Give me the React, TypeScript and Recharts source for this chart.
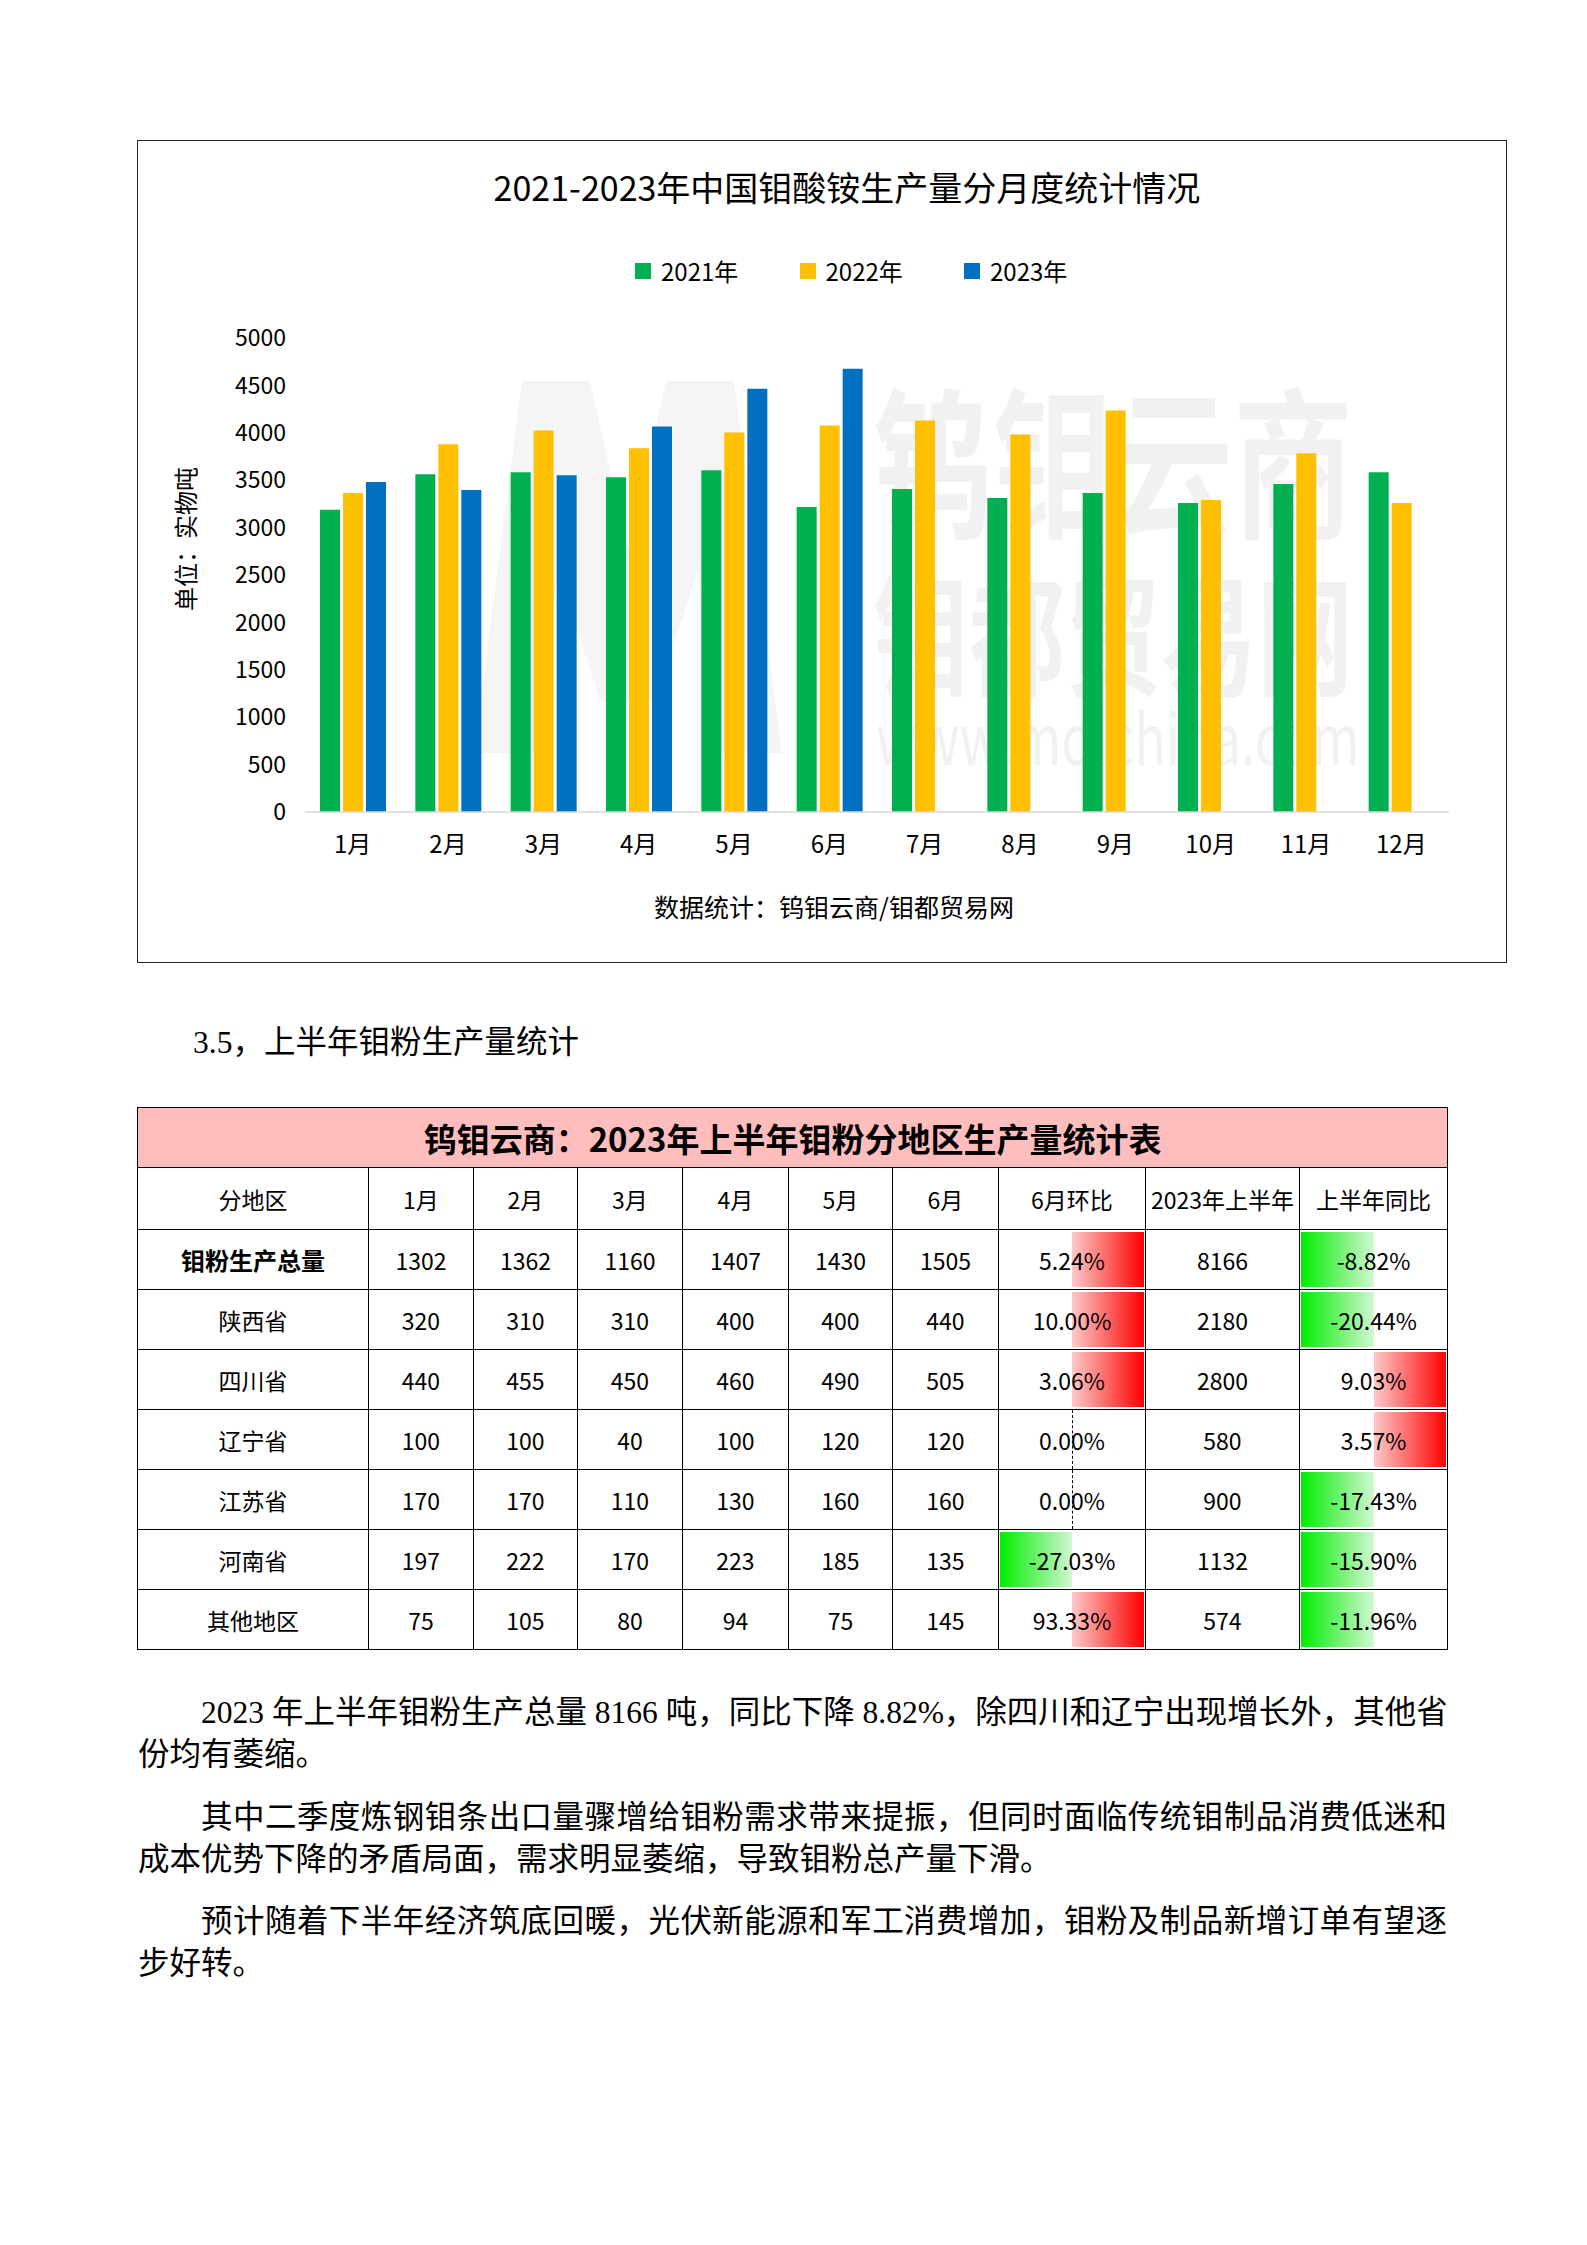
import React from 'react';
import { BarChart, Bar, XAxis, YAxis } from 'recharts';

// ---- chart data ----
const months = ['1月', '2月', '3月', '4月', '5月', '6月', '7月', '8月', '9月', '10月', '11月', '12月'];
const output2021 = [3187, 3564, 3585, 3532, 3606, 3218, 3407, 3312, 3365, 3260, 3459, 3585];
const output2022 = [3365, 3878, 4025, 3836, 4004, 4078, 4130, 3983, 4235, 3291, 3784, 3260];
const output2023 = [3480, 3396, 3553, 4067, 4465, 4675, null, null, null, null, null, null];
const yTicks = [0, 500, 1000, 1500, 2000, 2500, 3000, 3500, 4000, 4500, 5000];
const seriesKeys = ['y2021', 'y2022', 'y2023'];
const seriesNames = ['2021年', '2022年', '2023年'];
const seriesColors = ['#00b050', '#ffc000', '#0070c0'];

// ---- table data ----
const tableHeaders = ['分地区', '1月', '2月', '3月', '4月', '5月', '6月', '6月环比', '2023年上半年', '上半年同比'];
const regions = ['钼粉生产总量', '陕西省', '四川省', '辽宁省', '江苏省', '河南省', '其他地区'];
const jan = [1302, 320, 440, 100, 170, 197, 75];
const feb = [1362, 310, 455, 100, 170, 222, 105];
const mar = [1160, 310, 450, 40, 110, 170, 80];
const apr = [1407, 400, 460, 100, 130, 223, 94];
const may = [1430, 400, 490, 120, 160, 185, 75];
const jun = [1505, 440, 505, 120, 160, 135, 145];
const momChange = [5.24, 10.0, 3.06, 0.0, 0.0, -27.03, 93.33];
const halfYear = [8166, 2180, 2800, 580, 900, 1132, 574];
const yoyChange = [-8.82, -20.44, 9.03, 3.57, -17.43, -15.9, -11.96];

const paragraphs = [
  ['2023 年上半年钼粉生产总量 8166 吨，同比下降 8.82%，除四川和辽宁出现增长外，其他省', '份均有萎缩。'],
  ['其中二季度炼钢钼条出口量骤增给钼粉需求带来提振，但同时面临传统钼制品消费低迷和', '成本优势下降的矛盾局面，需求明显萎缩，导致钼粉总产量下滑。'],
  ['预计随着下半年经济筑底回暖，光伏新能源和军工消费增加，钼粉及制品新增订单有望逐', '步好转。'],
];

const chartData = months.map((m, i) => ({
  month: m,
  y2021: output2021[i],
  y2022: output2022[i],
  y2023: output2023[i],
}));

const sans = '"Noto Sans CJK SC", "Noto Sans", sans-serif';
const serif = '"Liberation Serif", "Noto Sans CJK SC", serif';

function YLabel(props: any) {
  const vb = props.viewBox || { x: 67, y: 197, height: 477 };
  const cx = vb.x - 21;
  const cy = vb.y + vb.height / 2 - 36;
  return (
    <text
      x={cx}
      y={cy}
      transform={`rotate(-90, ${cx}, ${cy})`}
      textAnchor="middle"
      dominantBaseline="central"
      fontSize={24}
      fill="#000"
    >
      单位：实物吨
    </text>
  );
}

function Watermark() {
  return (
    <svg width={1367} height={820} style={{ position: 'absolute', left: 0, top: 0 }}>
      <polygon
        points="336,612 384,240 452,240 490,410 528,240 596,240 644,612 584,612 560,430 518,560 462,560 420,430 396,612"
        fill="#f5f5f5"
      />
      <text transform="scale(1,1.35)" fill="#f1f1f1" fontWeight={700}>
        <tspan x={735} y={285} fontSize={120}>钨钼云商</tspan>
        <tspan x={735} y={403} fontSize={96}>钼都贸易网</tspan>
        <tspan x={738} y={462} fontSize={52} fontWeight={400}>www.molchina.com</tspan>
      </text>
    </svg>
  );
}

function ChartBox() {
  return (
    <div
      style={{
        position: 'absolute',
        left: 137,
        top: 140,
        width: 1370,
        height: 823,
        boxSizing: 'border-box',
        border: '1.5px solid #262626',
        fontFamily: sans,
        background: '#fff',
      }}
    >
      <Watermark />

      <div style={{ position: 'absolute', left: 309, width: 800, top: 24, lineHeight: '44px', fontSize: 34, textAlign: 'center', color: '#000', whiteSpace: 'nowrap' }}>
        2021-2023年中国钼酸铵生产量分月度统计情况
      </div>

      <div style={{ position: 'absolute', left: 497, top: 115, height: 30, display: 'flex', fontSize: 24, lineHeight: '30px', color: '#000' }}>
        {seriesNames.map((name, i) => (
          <div key={name} style={{ width: 164.5, display: 'flex', alignItems: 'center' }}>
            <span style={{ width: 16, height: 16, background: seriesColors[i], display: 'inline-block', marginRight: 10 }} />
            <span>{name}</span>
          </div>
        ))}
      </div>

      <div style={{ position: 'absolute', left: 0, top: 0 }}>
        <BarChart
          width={1367}
          height={820}
          data={chartData}
          margin={{ top: 197, right: 56, left: 67, bottom: 89 }}
          barGap={3}
        >
          <XAxis
            dataKey="month"
            axisLine={{ stroke: '#d9d9d9', strokeWidth: 1.5 }}
            tickLine={false}
            tickSize={0}
            tickMargin={24}
            height={60}
            interval={0}
            tick={{ fontSize: 24, fill: '#000' }}
          />
          <YAxis
            domain={[0, 5000]}
            ticks={yTicks}
            interval={0}
            axisLine={false}
            tickLine={false}
            tickSize={0}
            tickMargin={19}
            width={100}
            tick={{ fontSize: 23, fill: '#000' }}
            label={<YLabel />}
          />
          {seriesKeys.map((k, i) => (
            <Bar key={k} dataKey={k} name={seriesNames[i]} fill={seriesColors[i]} barSize={20} isAnimationActive={false} />
          ))}
        </BarChart>
      </div>

      <div style={{ position: 'absolute', left: 396, width: 600, top: 748, lineHeight: '34px', fontSize: 25, textAlign: 'center', color: '#000', whiteSpace: 'nowrap' }}>
        数据统计：钨钼云商/钼都贸易网
      </div>
    </div>
  );
}

const colWidths = [231, 105, 104, 105, 106, 104, 106, 147, 154, 148];
const cellBorder = '1.5px solid #000';

function PctCell({ value }: { value: number }) {
  const positive = value > 0;
  const negative = value < 0;
  return (
    <td style={{ border: cellBorder, position: 'relative', padding: 0, textAlign: 'center' }}>
      {value === 0 && (
        <div style={{ position: 'absolute', left: '50%', top: 0, bottom: 0, borderLeft: '1.5px dashed #000' }} />
      )}
      {positive && (
        <div style={{ position: 'absolute', left: '50%', right: 1, top: 2, bottom: 2, background: 'linear-gradient(to right, #ffc9c9, #ff0000)' }} />
      )}
      {negative && (
        <div style={{ position: 'absolute', left: 1, right: '50%', top: 2, bottom: 2, background: 'linear-gradient(to right, #00ee00, #d2f7d2)' }} />
      )}
      <span style={{ position: 'relative' }}>{value.toFixed(2)}%</span>
    </td>
  );
}

function DataTable() {
  const monthCols = [jan, feb, mar, apr, may, jun];
  return (
    <table
      style={{
        position: 'absolute',
        left: 137,
        top: 1107,
        width: 1310,
        borderCollapse: 'collapse',
        tableLayout: 'fixed',
        fontFamily: sans,
        fontSize: 23,
        color: '#000',
      }}
    >
      <colgroup>
        {colWidths.map((w, i) => (
          <col key={i} style={{ width: w }} />
        ))}
      </colgroup>
      <tbody>
        <tr style={{ height: 60 }}>
          <td colSpan={10} style={{ border: cellBorder, background: '#ffbdbd', textAlign: 'center', fontSize: 33, fontWeight: 700, padding: 0 }}>
            钨钼云商：2023年上半年钼粉分地区生产量统计表
          </td>
        </tr>
        <tr style={{ height: 62 }}>
          {tableHeaders.map((h) => (
            <td key={h} style={{ border: cellBorder, textAlign: 'center', padding: 0, whiteSpace: 'nowrap' }}>
              {h}
            </td>
          ))}
        </tr>
        {regions.map((r, i) => (
          <tr key={r} style={{ height: 60 }}>
            <td style={{ border: cellBorder, textAlign: 'center', padding: 0, fontWeight: i === 0 ? 700 : 400, fontSize: i === 0 ? 24 : 23 }}>{r}</td>
            {monthCols.map((col, j) => (
              <td key={j} style={{ border: cellBorder, textAlign: 'center', padding: 0 }}>
                {col[i]}
              </td>
            ))}
            <PctCell value={momChange[i]} />
            <td style={{ border: cellBorder, textAlign: 'center', padding: 0 }}>{halfYear[i]}</td>
            <PctCell value={yoyChange[i]} />
          </tr>
        ))}
      </tbody>
    </table>
  );
}

function BodyText() {
  const tops = [1692, 1797, 1901];
  return (
    <>
      {paragraphs.map((lines, p) => (
        <div
          key={p}
          style={{ position: 'absolute', left: 138, top: tops[p], width: 1309, fontFamily: serif, fontSize: 31.5, lineHeight: '42px', color: '#000' }}
        >
          <div style={{ paddingLeft: 63, whiteSpace: 'nowrap', textAlign: 'justify', textAlignLast: 'justify' }}>{lines[0]}</div>
          <div style={{ whiteSpace: 'nowrap' }}>{lines[1]}</div>
        </div>
      ))}
    </>
  );
}

export default function App() {
  return (
    <div style={{ position: 'absolute', left: 0, top: 0, width: 1587, height: 2245, background: '#fff', overflow: 'hidden' }}>
      <ChartBox />
      <div style={{ position: 'absolute', left: 193, top: 1022, fontFamily: serif, fontSize: 31.5, lineHeight: '42px', color: '#000', whiteSpace: 'nowrap' }}>
        3.5，上半年钼粉生产量统计
      </div>
      <DataTable />
      <BodyText />
    </div>
  );
}
